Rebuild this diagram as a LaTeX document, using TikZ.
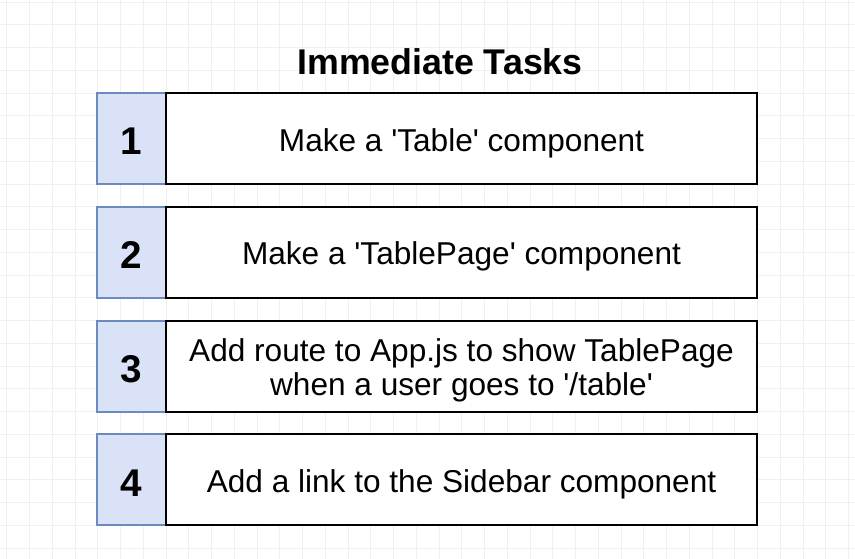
\documentclass[tikz,border=0pt]{standalone}
\usepackage{fontspec}
\setmainfont{Liberation Sans}[Ligatures=TeXOff]
\definecolor{numfill}{RGB}{217,226,247}
\definecolor{numline}{RGB}{108,138,190}
\definecolor{gridline}{RGB}{240,240,240}
\begin{document}
\begin{tikzpicture}[
		x=0.75pt, y=-0.75pt,
		numtext/.style={font=\fontsize{29}{30}\selectfont\bfseries},
		tasktext/.style={inner sep=0pt, align=center,
				font=\fontsize{23.7}{25.5}\selectfont},
		title/.style={font=\fontsize{26.8}{28}\selectfont\bfseries}
	]
	\useasboundingbox (0,0) rectangle (855,559);
	\fill[white] (0,0) rectangle (855,559);
	% background grid
	\foreach \gx in {-7,...,30}
	\draw[gridline, line width=0.6pt] (166+\gx*22.75,0) -- (166+\gx*22.75,559);
	\foreach \gy in {-4,...,20}
	\draw[gridline, line width=0.6pt] (0,93+\gy*22.75) -- (855,93+\gy*22.75);

	\node[title] (heading) at (440,62) {Immediate Tasks};

	% the four rows
	\foreach \n/\txt [count=\i from 0] in {
			1/{Make a 'Table' component},
			2/{Make a 'TablePage' component},
			3/{Add route to App.js to show TablePage\\when a user goes to '/table'},
			4/{Add a link to the Sidebar component}} {
			\draw[numline, fill=numfill, line width=1.5pt]
			(97,93+\i*113.75) rectangle (166,184+\i*113.75);
			\node[numtext] (num\n) at (131.5,141.5+\i*113.75) {\n};
			\draw[black, fill=white, line width=1.5pt]
			(166,93+\i*113.75) rectangle (757,184+\i*113.75);
			\node[tasktext] (task\n) at (461.5,143+\i*113.75) {\txt};
		}
\end{tikzpicture}
\end{document}
